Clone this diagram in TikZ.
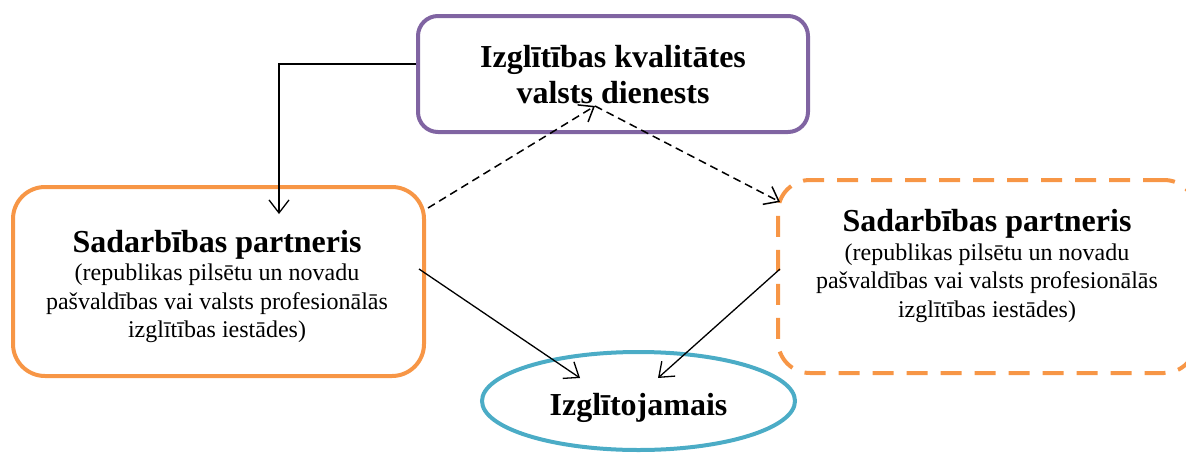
\documentclass[tikz,border=0pt]{standalone}
\usepackage{fontspec}
\setmainfont{Liberation Serif}
\usetikzlibrary{arrows.meta,shapes.geometric}
\definecolor{servicepurple}{HTML}{8064A2}
\definecolor{partnerorange}{HTML}{F79646}
\definecolor{learnerblue}{HTML}{4BACC6}
\newcommand\headfont{\bfseries\fontsize{32}{28.5}\selectfont}
\tikzset{
  >={Straight Barb[length=13pt,width=20pt]},
  {frame/.style} ={draw, rectangle, line width=4pt, inner sep=0},
  {service/.style} ={frame, draw=servicepurple, rounded corners=20pt,
                     minimum width=390pt, minimum height=116pt},
  {partner/.style} ={frame, draw=partnerorange, rounded corners=32pt,
                     minimum width=411pt, minimum height=189pt},
  {other partner/.style} ={partner, dash pattern=on 21pt off 13pt,
                     minimum width=418pt, minimum height=193pt},
  {learner/.style} ={draw=learnerblue, ellipse, line width=4pt, inner sep=0,
                     minimum width=313pt, minimum height=98pt,
                     text height=28pt, text depth=0pt,
                     font=\bfseries\fontsize{32}{36}\selectfont},
  {title/.style} ={align=center, font=\bfseries\fontsize{32}{36}\selectfont},
  {remark/.style} ={align=center, font=\fontsize{24}{28.5}\selectfont},
  link/.style ={line width=1.3pt, ->},
  {dashed link/.style} ={link, line width=1.5pt, dash pattern=on 8pt off 5pt},
}

\begin{document}
\begin{tikzpicture}[x=1pt,y=-1pt]
\useasboundingbox (0,0) rectangle (1186,453);
\node[service] (quality) at (613,74) {};
\node[title] (qualitytext) at (613,74.5) {Izglītības kvalitātes\\valsts dienests};
\node[partner] (partnerL) at (218.5,281.5) {};
\node[remark] (partnerLtext) at (217,286.5) {{\headfont Sadarbības partneris}\\(republikas pilsētu un novadu\\pašvaldības vai valsts profesionālās\\izglītības iestādes)};
\node[other partner] (partnerR) at (987,276.5) {};
\node[remark] (partnerRtext) at (987,266) {{\headfont Sadarbības partneris}\\(republikas pilsētu un novadu\\pašvaldības vai valsts profesionālās\\izglītības iestādes)};
\node[learner] (learner) at (638.5,401) {Izglītojamais};
% loose ends
\coordinate (intoL) at (279,214);
\coordinate (meet) at (595,106);
\coordinate (outofL) at (428,208);
\coordinate (intoR) at (780,202);
\coordinate (fromL) at (419,269);
\coordinate (fromR) at (780,269);
\coordinate (learnerL) at (580,378);
\coordinate (learnerR) at (658,378);
\draw[link] ([yshift=10pt]quality.west) -| (intoL);
\path[dashed link] (outofL) edge (meet);
\path[dashed link] (meet) edge (intoR);
\path[link] (fromL) edge (learnerL);
\path[link] (fromR) edge (learnerR);
\end{tikzpicture}
\end{document}
